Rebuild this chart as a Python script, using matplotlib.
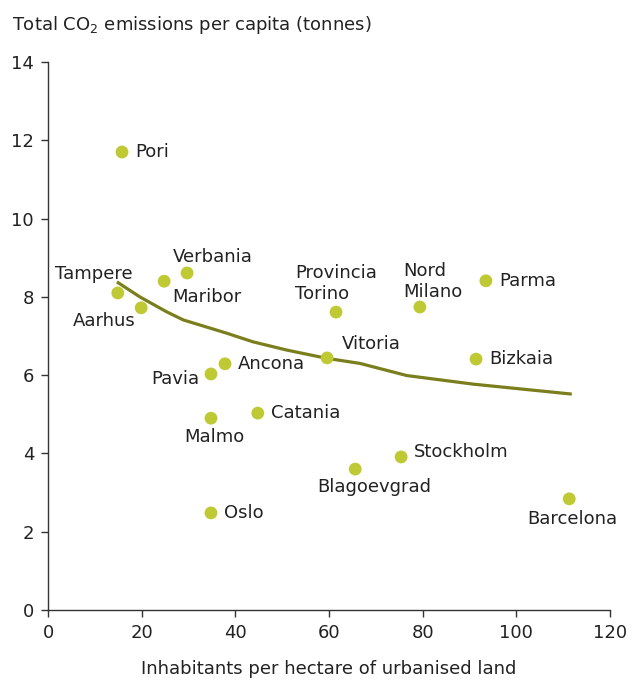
import numpy as np
import matplotlib
matplotlib.use("Agg")
import matplotlib.pyplot as plt

cities = ["Pori", "Tampere", "Aarhus", "Maribor", "Verbania", "Pavia", "Ancona",
          "Malmo", "Catania", "Oslo", "Provincia\nTorino", "Vitoria", "Nord\nMilano",
          "Parma", "Bizkaia", "Blagoevgrad", "Stockholm", "Barcelona"]
density = [15.8, 14.9, 19.9, 24.8, 29.7, 34.8, 37.8, 34.8, 44.8, 34.8, 61.5, 59.6,
           79.4, 93.5, 91.4, 65.6, 75.4, 111.3]
co2 = [11.7, 8.1, 7.72, 8.4, 8.61, 6.03, 6.29, 4.9, 5.03, 2.48, 7.61, 6.44, 7.74,
       8.41, 6.41, 3.6, 3.91, 2.84]

# trend line
trend_x = [15.0, 19.6, 25.3, 28.9, 38.2, 43.8, 51.0, 59.5, 66.6, 76.6, 90.8, 111.5]
trend_y = [8.36, 8.00, 7.62, 7.41, 7.07, 6.85, 6.64, 6.43, 6.30, 5.99, 5.77, 5.52]

# label placement: (dx px, dy px, ha, va)
offsets = {
    "Pori": (13, 0, "left", "center"),
    "Tampere": (-24, 10, "center", "bottom"),
    "Aarhus": (-6, -4, "right", "top"),
    "Maribor": (8, -7, "left", "top"),
    "Verbania": (-14, 7, "left", "bottom"),
    "Pavia": (-12, -5, "right", "center"),
    "Ancona": (13, 0, "left", "center"),
    "Malmo": (3, -10, "center", "top"),
    "Catania": (13, 0, "left", "center"),
    "Oslo": (13, 0, "left", "center"),
    "Provincia\nTorino": (-41, 9, "left", "bottom"),
    "Vitoria": (15, 5, "left", "bottom"),
    "Nord\nMilano": (-17, 6, "left", "bottom"),
    "Parma": (13, 0, "left", "center"),
    "Bizkaia": (13, 0, "left", "center"),
    "Blagoevgrad": (19, -9, "center", "top"),
    "Stockholm": (13, 5, "left", "center"),
    "Barcelona": (3, -11, "center", "top"),
}

txt = "#222222"
fs = 13
plt.rcParams["font.family"] = ["DejaVu Sans"]
fig = plt.figure(figsize=(6.32, 6.8), dpi=100)
ax = fig.add_axes([48/632, 70/680, (610-48)/632, (610-62)/680])

ax.plot(trend_x, trend_y, color="#7b7e1c", lw=2.3, zorder=2)

ax.scatter(density, co2, s=85, color="#bfc934", edgecolors="none", zorder=3)
for c, xx, yy in zip(cities, density, co2):
    dx, dy, ha, va = offsets[c]
    ax.annotate(c, (xx, yy), xytext=(dx, dy), textcoords="offset pixels",
                ha=ha, va=va, fontsize=fs, color=txt, linespacing=1.2)

ax.set_xlim(0, 120)
ax.set_ylim(0, 14)
ax.set_xticks(range(0, 121, 20))
ax.set_yticks(range(0, 15, 2))
for s in ["top", "right"]:
    ax.spines[s].set_visible(False)
for s in ["left", "bottom"]:
    ax.spines[s].set_color("#333333")
    ax.spines[s].set_linewidth(1.0)
ax.tick_params(direction="out", length=5, width=1, colors="#333333",
               labelsize=fs, labelcolor=txt, pad=5)
ax.set_xlabel("Inhabitants per hectare of urbanised land", fontsize=fs,
              color=txt, labelpad=13)
fig.text(12/632, 1-25/680, "Total CO$_2$ emissions per capita (tonnes)",
         fontsize=fs, color=txt, va="center", ha="left")

fig.savefig("out.png", dpi=100)
